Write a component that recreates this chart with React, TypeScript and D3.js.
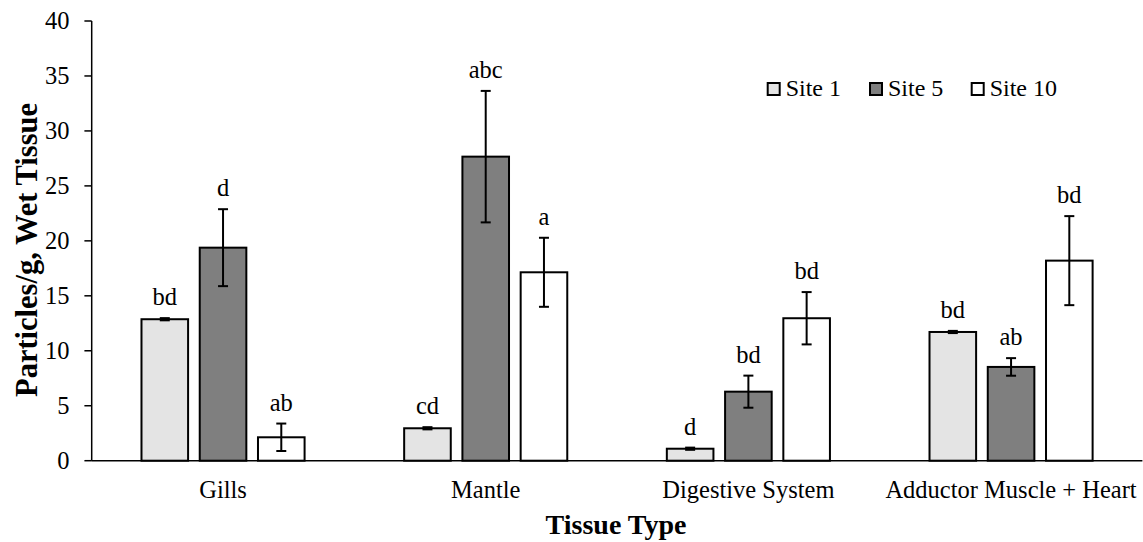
import React from "react";
import * as d3 from "d3";

const categories = ["Gills", "Mantle", "Digestive System", "Adductor Muscle + Heart"];
const sites = ["Site 1", "Site 5", "Site 10"];
const site1Values = [12.87, 2.95, 1.09, 11.71];
const site5Values = [19.38, 27.66, 6.28, 8.53];
const site10Values = [2.13, 17.14, 12.96, 18.2];
const site1Errors = [0.1, 0.1, 0.1, 0.1];
const site5Errors = [3.5, 5.98, 1.46, 0.8];
const site10Errors = [1.25, 3.14, 2.38, 4.05];
const site1Letters = ["bd", "cd", "d", "bd"];
const site5Letters = ["d", "abc", "bd", "ab"];
const site10Letters = ["ab", "a", "bd", "bd"];
const yTicks = [0, 5, 10, 15, 20, 25, 30, 35, 40];

const colors = ["#e4e4e4", "#7f7f7f", "#ffffff"];

const W = 1143;
const H = 542;
const FONT = "'Liberation Serif', 'Times New Roman', serif";

export default function App() {
  const x0 = d3.scaleBand<string>().domain(categories).range([91.7, 1142.4]).padding(0);
  const half = 81.55;
  const x1 = d3.scaleBand<string>().domain(sites).range([-half, half]).paddingInner(0.2).paddingOuter(0);
  const y = d3.scaleLinear().domain([0, 40]).range([460.7, 21]);

  const values = [site1Values, site5Values, site10Values];
  const errors = [site1Errors, site5Errors, site10Errors];
  const letters = [site1Letters, site5Letters, site10Letters];

  const center = (c: string) => (x0(c) as number) + x0.bandwidth() / 2;
  const bw = x1.bandwidth();

  const legendX = [766.7, 869, 970.7];
  const txt = { fontFamily: FONT, fontWeight: 400 as const };

  return (
    <svg
      width={W}
      height={H}
      style={{ position: "absolute", left: 0, top: 0, background: "#fff", fontFamily: FONT }}
    >
      <rect x={0} y={0} width={W} height={H} fill="#fff" />
      {yTicks.map((t) => (
        <g key={t}>
          <line x1={84.4} x2={91.7} y1={y(t)} y2={y(t)} stroke="#000" strokeWidth={1.5} />
          <text x={69.5} y={y(t)} dy="0.34em" textAnchor="end" fontSize={24.5} fill="#000" style={txt}>
            {t}
          </text>
        </g>
      ))}
      {categories.map((c, ci) =>
        sites.map((s, si) => {
          const v = values[si][ci];
          const e = errors[si][ci];
          const bx = center(c) + (x1(s) as number);
          const cx = bx + bw / 2;
          return (
            <g key={c + s}>
              <rect
                x={bx}
                y={y(v)}
                width={bw}
                height={y(0) - y(v)}
                fill={colors[si]}
                stroke="#000"
                strokeWidth={2}
              />
              <line x1={cx} x2={cx} y1={y(v + e)} y2={y(v - e)} stroke="#000" strokeWidth={2} />
              <line x1={cx - 5} x2={cx + 5} y1={y(v + e)} y2={y(v + e)} stroke="#000" strokeWidth={2} />
              <line x1={cx - 5} x2={cx + 5} y1={y(v - e)} y2={y(v - e)} stroke="#000" strokeWidth={2} />
              <text x={cx} y={y(v + e) - 13} textAnchor="middle" fontSize={24.5} fill="#000" style={txt}>
                {letters[si][ci]}
              </text>
            </g>
          );
        })
      )}
      <line x1={91.7} x2={91.7} y1={y(40)} y2={y(0)} stroke="#000" strokeWidth={1.5} />
      <line x1={91.7} x2={1142.4} y1={y(0)} y2={y(0)} stroke="#000" strokeWidth={1.5} />
      {categories.map((c) => (
        <text key={c} x={center(c)} y={498} textAnchor="middle" fontSize={24.5} fill="#000" style={txt}>
          {c}
        </text>
      ))}
      <text
        x={616}
        y={534}
        textAnchor="middle"
        fontSize={28}
        fill="#000"
        style={{ fontFamily: FONT, fontWeight: 700 }}
      >
        Tissue Type
      </text>
      <text
        transform={`translate(37,250) rotate(-90)`}
        textAnchor="middle"
        fontSize={30.5}
        fill="#000"
        style={{ fontFamily: FONT, fontWeight: 700 }}
      >
        Particles/g, Wet Tissue
      </text>
      {sites.map((s, i) => (
        <g key={s}>
          <rect x={legendX[i] + 1} y={83} width={12} height={12} fill={colors[i]} stroke="#000" strokeWidth={2} />
          <text x={legendX[i] + 19} y={96} fontSize={24} fill="#000" style={txt}>
            {s}
          </text>
        </g>
      ))}
    </svg>
  );
}
